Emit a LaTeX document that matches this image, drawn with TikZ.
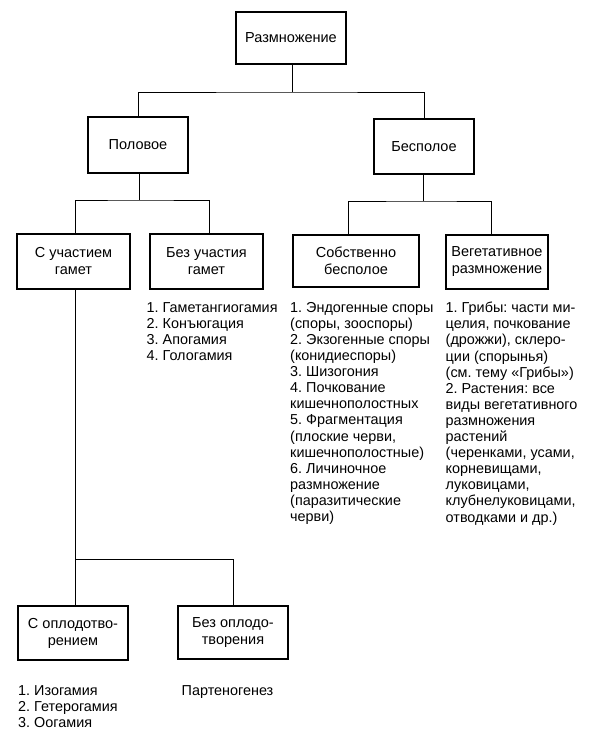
\documentclass[tikz,border=0pt]{standalone}
\usepackage{fontspec}
\setmainfont{Liberation Sans}
\frenchspacing
\begin{document}
\begin{tikzpicture}[x=1pt,y=-1pt,
  box/.style={draw, line width=1.6pt, inner sep=0pt, align=center,
    font=\fontsize{14.5}{17}\selectfont},
  conn/.style={line width=0.9pt},
  lst/.style={anchor=north west, inner sep=0pt, align=left,
    font=\fontsize{14.4}{16.1}\selectfont}]
\useasboundingbox (0,0) rectangle (590,733);
% boxes
\node[box, minimum width=110pt, minimum height=52pt] (root) at (291,38) {Размножение};
\node[box, minimum width=100pt, minimum height=56pt] (pol) at (138,145) {Половое};
\node[box, minimum width=100pt, minimum height=55pt] (bes) at (424,146.5) {Бесполое};
\node[box, minimum width=113pt, minimum height=55pt] (gam) at (73.5,261.5) {С участием\\гамет};
\node[box, minimum width=113pt, minimum height=55pt] (nogam) at (206.5,261.5) {Без участия\\гамет};
\node[box, minimum width=126pt, minimum height=52pt] (sob) at (356,261) {Собственно\\бесполое};
\node[box, minimum width=102pt, minimum height=54pt] (veg) at (497,262) {Вегетативное\\размножение};
\node[box, minimum width=110pt, minimum height=54pt] (fert) at (73,633) {С оплодотво-\\рением};
\node[box, minimum width=110pt, minimum height=53pt] (nofert) at (233,632.5) {Без оплодо-\\творения};
% junctions
\coordinate (j1) at (292,92);
\coordinate (j2) at (139,200);
\coordinate (j3) at (423,201);
\coordinate (j4) at (75.5,559);
% connectors
\draw[conn] (root.south -| j1) -- (j1);
\draw[conn] (pol.north) |- (j1) -| (bes.north);
\draw[conn] (pol.south -| j2) -- (j2);
\draw[conn] ([xshift=1.5pt]gam.north) |- (j2) -| ([xshift=2.5pt]nogam.north);
\draw[conn] (bes.south -| j3) -- (j3);
\draw[conn] ([xshift=-8pt]sob.north) |- (j3) -| ([xshift=-6pt]veg.north);
\draw[conn] (gam.south -| j4) -- (fert.north -| j4);
\draw[conn] (j4) -| (nofert.north);
% lists
\node[lst] (l1) at (146.5,302) {1. Гаметангиогамия\\2. Конъюгация\\3. Апогамия\\4. Гологамия};
\node[lst] (l2) at (290,302) {1. Эндогенные споры\\(споры, зооспоры)\\2. Экзогенные споры\\(конидиеспоры)\\3. Шизогония\\4. Почкование\\кишечнополостных\\5. Фрагментация\\(плоские черви,\\кишечнополостные)\\6. Личиночное\\размножение\\(паразитические\\черви)};
\node[lst] (l3) at (445.5,302) {1. Грибы: части ми-\\целия, почкование\\(дрожжи), склеро-\\ции (спорынья)\\(см. тему «Грибы»)\\2. Растения: все\\виды вегетативного\\размножения\\растений\\(черенками, усами,\\корневищами,\\луковицами,\\клубнелуковицами,\\отводками и др.)};
\node[lst] (l4) at (18,685.5) {1. Изогамия\\2. Гетерогамия\\3. Оогамия};
\node[lst] (l5) at (181.5,685.5) {Партеногенез};
\end{tikzpicture}
\end{document}
